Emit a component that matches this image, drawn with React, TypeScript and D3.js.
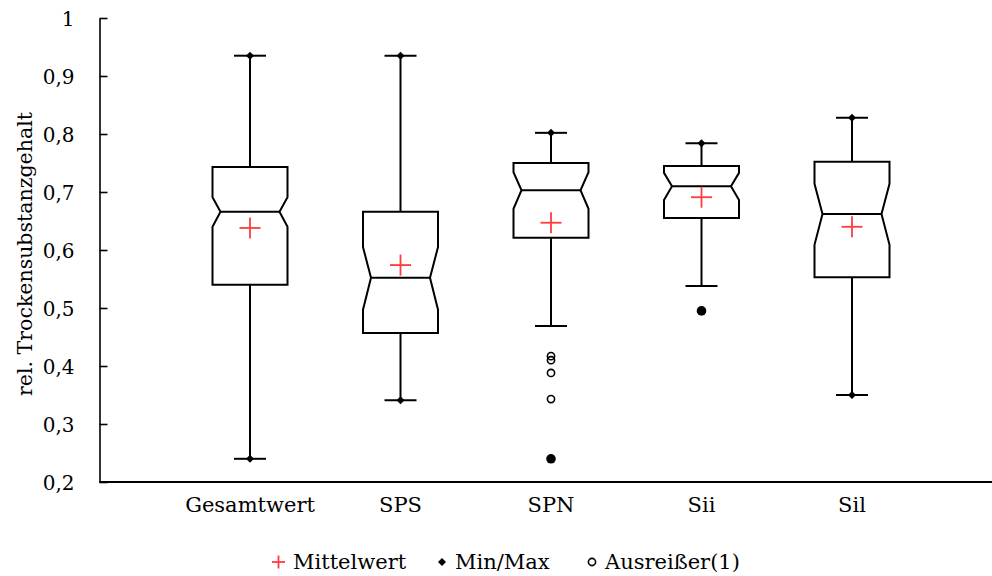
import React, { useEffect, useRef } from "react";
import * as d3 from "d3";

const categories = ["Gesamtwert", "SPS", "SPN", "Sii", "Sil"];
const q1 = [0.540, 0.457, 0.621, 0.655, 0.553];
const median = [0.666, 0.552, 0.703, 0.710, 0.662];
const q3 = [0.743, 0.666, 0.750, 0.745, 0.752];
const notchLow = [0.640, 0.497, 0.671, 0.686, 0.609];
const notchHigh = [0.691, 0.605, 0.734, 0.733, 0.714];
const whiskerLow = [0.240, 0.341, 0.469, 0.538, 0.350];
const whiskerHigh = [0.935, 0.935, 0.802, 0.784, 0.828];
const means = [0.638, 0.574, 0.647, 0.691, 0.640];
const minValues = [0.240, 0.341, 0.240, 0.495, 0.350];
const maxValues = [0.935, 0.935, 0.802, 0.784, 0.828];
const outliers: number[][] = [[], [], [0.417, 0.410, 0.388, 0.343], [], []];
const yTicks = [0.2, 0.3, 0.4, 0.5, 0.6, 0.7, 0.8, 0.9, 1];
const yTitle = "rel. Trockensubstanzgehalt";
const legendLabels = ["Mittelwert", "Min/Max", "Ausreißer(1)"];

const W = 992;
const H = 576;
const FONT = "'DejaVu Serif', serif";

export default function App() {
  const axisRef = useRef<SVGGElement>(null);
  const y = d3.scaleLinear().domain([0.2, 1]).range([482, 18]);
  const x = d3.scaleLinear().domain([0, 6]).range([99.5, 1002.5]);
  const locale = d3.formatLocale({ decimal: ",", thousands: ".", grouping: [3], currency: ["", "€"] });
  const fmt = (v: number) => locale.format("~g")(v);

  useEffect(() => {
    if (!axisRef.current) return;
    const g = d3.select(axisRef.current);
    g.selectAll("*").remove();
    const ax = d3
      .axisLeft(y)
      .tickValues(yTicks)
      .tickSizeInner(-8)
      .tickSizeOuter(0)
      .tickPadding(25)
      .tickFormat((d: any) => fmt(+d));
    g.attr("transform", `translate(${x(0)},0)`).call(ax);
    g.select(".domain").attr("stroke", "#000").attr("stroke-width", 1.6);
    g.selectAll(".tick line").attr("stroke", "#000").attr("stroke-width", 1.6);
    g.selectAll(".tick text")
      .attr("fill", "#000")
      .attr("dy", "0.36em")
      .style("font-family", FONT)
      .style("font-size", "20px");
  }, []);

  const hw = 37.5;
  const inset = 8;
  const capHw = 16;

  return (
    <svg width={W} height={H} style={{ position: "absolute", left: 0, top: 0, background: "#fff" }}>
      <rect x={0} y={0} width={W} height={H} fill="#fff" />
      {/* x axis */}
      <line x1={x(0)} x2={W} y1={y(0.2)} y2={y(0.2)} stroke="#000" strokeWidth={2} />
      <g ref={axisRef} />
      <text
        transform={`translate(32,${(y(0.2) + y(1)) / 2 + 4}) rotate(-90)`}
        textAnchor="middle"
        style={{ fontFamily: FONT, fontSize: 20.5 }}
        fill="#000"
      >
        {yTitle}
      </text>
      {categories.map((c, i) => {
        const cx = x(i + 1);
        const l = cx - hw;
        const r = cx + hw;
        const path = d3.path();
        path.moveTo(l, y(q3[i]));
        path.lineTo(r, y(q3[i]));
        path.lineTo(r, y(notchHigh[i]));
        path.lineTo(r - inset, y(median[i]));
        path.lineTo(r, y(notchLow[i]));
        path.lineTo(r, y(q1[i]));
        path.lineTo(l, y(q1[i]));
        path.lineTo(l, y(notchLow[i]));
        path.lineTo(l + inset, y(median[i]));
        path.lineTo(l, y(notchHigh[i]));
        path.closePath();
        const diamond = (vy: number) =>
          `M${cx},${vy - 4}L${cx + 4},${vy}L${cx},${vy + 4}L${cx - 4},${vy}Z`;
        return (
          <g key={c}>
            <line x1={cx} x2={cx} y1={y(q3[i])} y2={y(whiskerHigh[i])} stroke="#000" strokeWidth={2} />
            <line x1={cx} x2={cx} y1={y(q1[i])} y2={y(whiskerLow[i])} stroke="#000" strokeWidth={2} />
            <line x1={cx - capHw} x2={cx + capHw} y1={y(whiskerHigh[i])} y2={y(whiskerHigh[i])} stroke="#000" strokeWidth={2} />
            <line x1={cx - capHw} x2={cx + capHw} y1={y(whiskerLow[i])} y2={y(whiskerLow[i])} stroke="#000" strokeWidth={2} />
            <path d={path.toString()} fill="#fff" stroke="#000" strokeWidth={2} strokeLinejoin="miter" />
            <line x1={l + inset} x2={r - inset} y1={y(median[i])} y2={y(median[i])} stroke="#000" strokeWidth={2} />
            {maxValues[i] === whiskerHigh[i] ? (
              <path d={diamond(y(maxValues[i]))} fill="#000" />
            ) : (
              <circle cx={cx} cy={y(maxValues[i])} r={4.8} fill="#000" />
            )}
            {minValues[i] === whiskerLow[i] ? (
              <path d={diamond(y(minValues[i]))} fill="#000" />
            ) : (
              <circle cx={cx} cy={y(minValues[i])} r={4.8} fill="#000" />
            )}
            {outliers[i].map((o, j) => (
              <circle key={j} cx={cx} cy={y(o)} r={3.6} fill="none" stroke="#000" strokeWidth={1.6} />
            ))}
            <g stroke="#ff3b3b" strokeWidth={1.8}>
              <line x1={cx - 10.5} x2={cx + 10.5} y1={y(means[i])} y2={y(means[i])} />
              <line x1={cx} x2={cx} y1={y(means[i]) - 10.5} y2={y(means[i]) + 10.5} />
            </g>
            <text
              x={cx}
              y={512}
              textAnchor="middle"
              style={{ fontFamily: FONT, fontSize: 21 }}
              fill="#000"
            >
              {c}
            </text>
          </g>
        );
      })}
      {/* legend */}
      <g style={{ fontFamily: FONT, fontSize: 21 }} fill="#000">
        <g stroke="#ff3b3b" strokeWidth={1.8}>
          <line x1={272} x2={285} y1={562} y2={562} />
          <line x1={278.5} x2={278.5} y1={555.5} y2={568.5} />
        </g>
        <text x={293} y={569}>{legendLabels[0]}</text>
        <path d="M442,558L446,562L442,566L438,562Z" fill="#000" />
        <text x={455} y={569}>{legendLabels[1]}</text>
        <circle cx={592} cy={562} r={3.6} fill="none" stroke="#000" strokeWidth={1.6} />
        <text x={605} y={569}>{legendLabels[2]}</text>
      </g>
    </svg>
  );
}
